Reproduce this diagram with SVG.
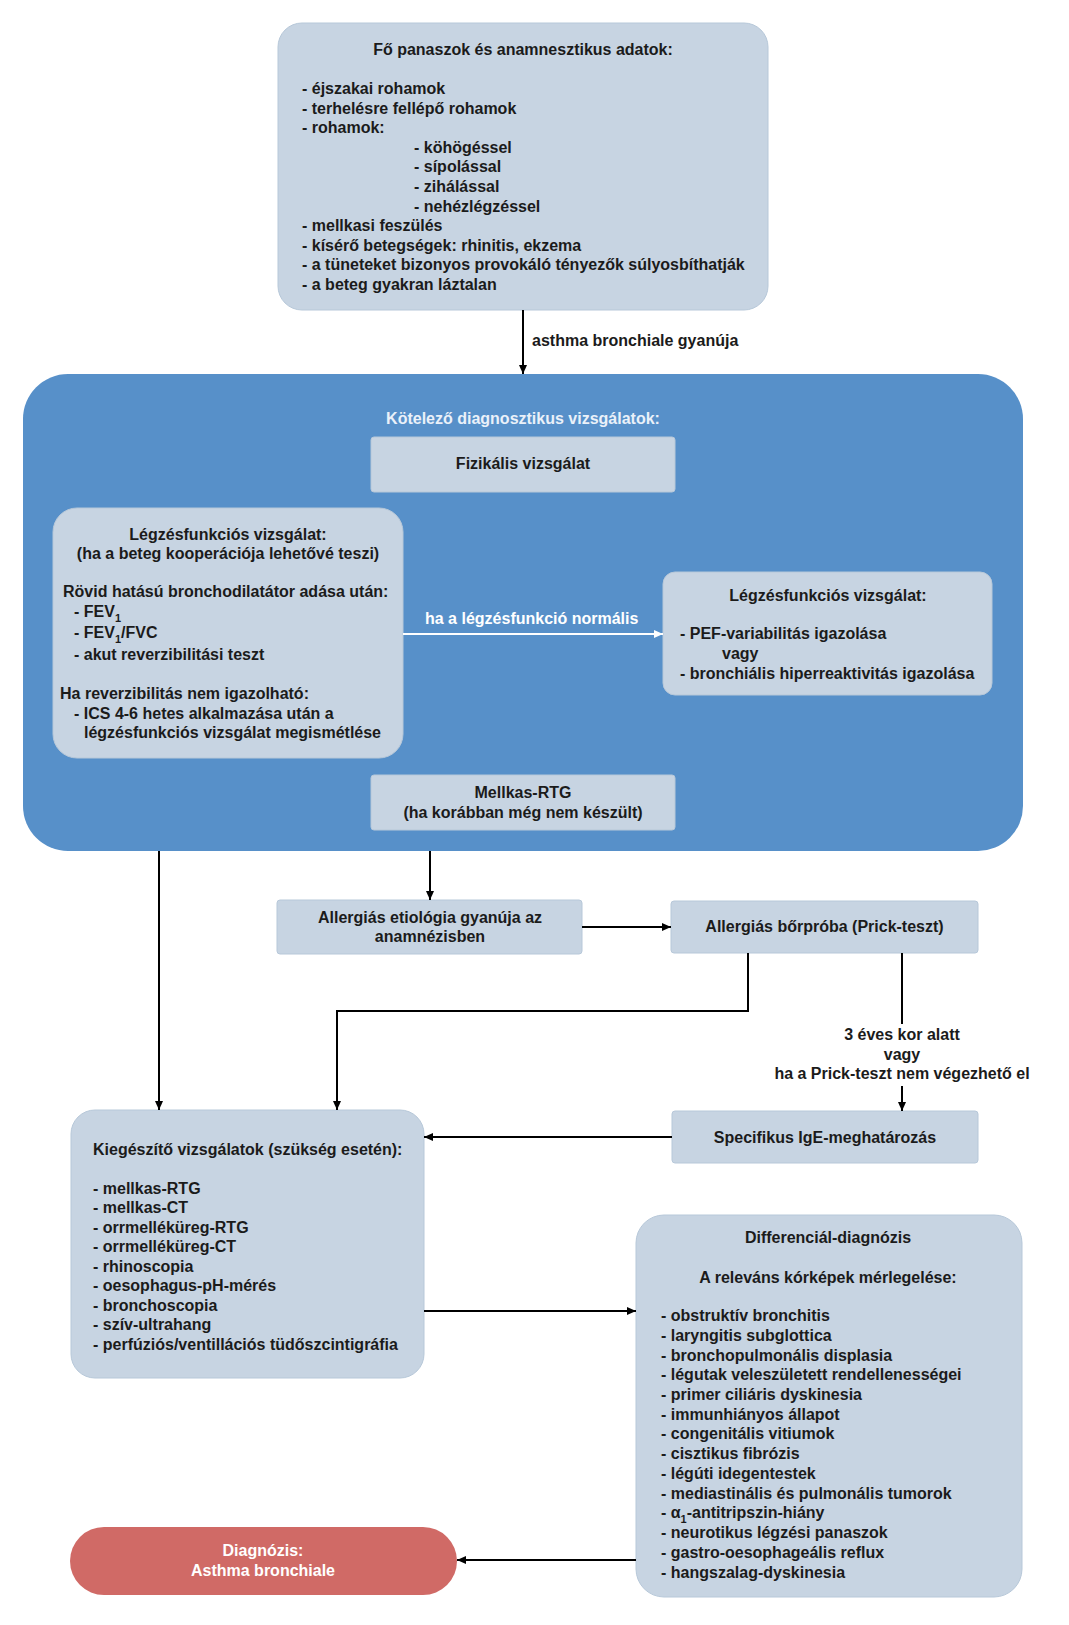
<svg xmlns="http://www.w3.org/2000/svg" width="1069" height="1625" viewBox="0 0 1069 1625">
<style>
text{font-family:"Liberation Sans",Arial,sans-serif;font-weight:bold;font-size:16px;fill:#1b1b1b}
.c{text-anchor:middle}
.w{fill:#ffffff}
.lt{fill:#eaf1f9}
.box{fill:#c7d4e2;stroke:#b7c8d9;stroke-width:1}
.ln{fill:none;stroke:#000;stroke-width:2}
.wl{fill:none;stroke:#fff;stroke-width:2}
.sub{font-size:11px}
</style>
<defs>
<marker id="ah" markerWidth="10" markerHeight="10" refX="9" refY="5" orient="auto" markerUnits="userSpaceOnUse">
<path d="M0,1 L9,5 L0,9 Z" fill="#000"/>
</marker>
<marker id="ahw" markerWidth="10" markerHeight="10" refX="9" refY="5" orient="auto" markerUnits="userSpaceOnUse">
<path d="M0,1 L9,5 L0,9 Z" fill="#fff"/>
</marker>
</defs>
<rect width="1069" height="1625" fill="#fff"/>

<g id="main-panel">
<rect x="23" y="374" width="1000" height="477" rx="45" fill="#5790c9"/>
<text class="c lt" x="523" y="424">Kötelező diagnosztikus vizsgálatok:</text>
</g>

<g id="anamnesis">
<rect class="box" x="278" y="23" width="490" height="287" rx="24"/>
<text class="c" x="523" y="55">Fő panaszok és anamnesztikus adatok:</text>
<text x="302" y="94">- éjszakai rohamok</text>
<text x="302" y="113.6">- terhelésre fellépő rohamok</text>
<text x="302" y="133.2">- rohamok:</text>
<text x="414" y="152.8">- köhögéssel</text>
<text x="414" y="172.4">- sípolással</text>
<text x="414" y="192">- zihálással</text>
<text x="414" y="211.6">- nehézlégzéssel</text>
<text x="302" y="231.2">- mellkasi feszülés</text>
<text x="302" y="250.8">- kísérő betegségek: rhinitis, ekzema</text>
<text x="302" y="270.4">- a tüneteket bizonyos provokáló tényezők súlyosbíthatják</text>
<text x="302" y="290">- a beteg gyakran láztalan</text>
</g>

<g id="fizikalis">
<rect class="box" x="371" y="437" width="304" height="55" rx="3"/>
<text class="c" x="523" y="469">Fizikális vizsgálat</text>
</g>

<g id="legzesfunkcio-1">
<rect class="box" x="53" y="508" width="350" height="250" rx="24"/>
<text class="c" x="228" y="540">Légzésfunkciós vizsgálat:</text>
<text class="c" x="228" y="559">(ha a beteg kooperációja lehetővé teszi)</text>
<text x="63" y="597">Rövid hatású bronchodilatátor adása után:</text>
<text x="74" y="617">- FEV<tspan class="sub" dy="5">1</tspan></text>
<text x="74" y="638">- FEV<tspan class="sub" dy="5">1</tspan><tspan dy="-5">/FVC</tspan></text>
<text x="74" y="660">- akut reverzibilitási teszt</text>
<text x="60" y="699">Ha reverzibilitás nem igazolható:</text>
<text x="74" y="719">- ICS 4-6 hetes alkalmazása után a</text>
<text x="84" y="738">légzésfunkciós vizsgálat megismétlése</text>
</g>

<g id="legzesfunkcio-2">
<rect class="box" x="663" y="572" width="329" height="123" rx="12"/>
<text class="c" x="828" y="601">Légzésfunkciós vizsgálat:</text>
<text x="680" y="639">- PEF-variabilitás igazolása</text>
<text x="722" y="659">vagy</text>
<text x="680" y="679">- bronchiális hiperreaktivitás igazolása</text>
</g>

<g id="mellkas-rtg">
<rect class="box" x="371" y="775" width="304" height="55" rx="3"/>
<text class="c" x="523" y="798">Mellkas-RTG</text>
<text class="c" x="523" y="818">(ha korábban még nem készült)</text>
</g>

<g id="allergias-etiologia">
<rect class="box" x="277" y="900" width="305" height="54" rx="3"/>
<text class="c" x="430" y="923">Allergiás etiológia gyanúja az</text>
<text class="c" x="430" y="942">anamnézisben</text>
</g>

<g id="prick">
<rect class="box" x="671" y="901" width="307" height="52" rx="3"/>
<text class="c" x="824.5" y="932">Allergiás bőrpróba (Prick-teszt)</text>
</g>

<g id="ige">
<rect class="box" x="672" y="1111" width="306" height="52" rx="3"/>
<text class="c" x="825" y="1143">Specifikus IgE-meghatározás</text>
</g>

<g id="kiegeszito">
<rect class="box" x="71" y="1110" width="353" height="268" rx="24"/>
<text x="93" y="1155">Kiegészítő vizsgálatok (szükség esetén):</text>
<text x="93" y="1193.5">- mellkas-RTG</text>
<text x="93" y="1213">- mellkas-CT</text>
<text x="93" y="1232.5">- orrmelléküreg-RTG</text>
<text x="93" y="1252">- orrmelléküreg-CT</text>
<text x="93" y="1271.5">- rhinoscopia</text>
<text x="93" y="1291">- oesophagus-pH-mérés</text>
<text x="93" y="1310.5">- bronchoscopia</text>
<text x="93" y="1330">- szív-ultrahang</text>
<text x="93" y="1349.5">- perfúziós/ventillációs tüdőszcintigráfia</text>
</g>

<g id="differencial">
<rect class="box" x="636" y="1215" width="386" height="382" rx="28"/>
<text class="c" x="828" y="1243">Differenciál-diagnózis</text>
<text class="c" x="828" y="1283">A releváns kórképek mérlegelése:</text>
<text x="661" y="1321">- obstruktív bronchitis</text>
<text x="661" y="1340.7">- laryngitis subglottica</text>
<text x="661" y="1360.5">- bronchopulmonális displasia</text>
<text x="661" y="1380.2">- légutak veleszületett rendellenességei</text>
<text x="661" y="1400">- primer ciliáris dyskinesia</text>
<text x="661" y="1419.7">- immunhiányos állapot</text>
<text x="661" y="1439.4">- congenitális vitiumok</text>
<text x="661" y="1459.2">- cisztikus fibrózis</text>
<text x="661" y="1478.9">- légúti idegentestek</text>
<text x="661" y="1498.7">- mediastinális és pulmonális tumorok</text>
<text x="661" y="1518.4">- α<tspan class="sub" dy="5">1</tspan><tspan dy="-5">-antitripszin-hiány</tspan></text>
<text x="661" y="1538.1">- neurotikus légzési panaszok</text>
<text x="661" y="1557.9">- gastro-oesophageális reflux</text>
<text x="661" y="1577.6">- hangszalag-dyskinesia</text>
</g>

<g id="diagnozis">
<rect x="70" y="1527" width="387" height="68" rx="34" fill="#d06a66"/>
<text class="c w" x="263" y="1556">Diagnózis:</text>
<text class="c w" x="263" y="1576">Asthma bronchiale</text>
</g>

<g id="connectors">
<line class="ln" x1="523" y1="310" x2="523" y2="374" marker-end="url(#ah)"/>
<text x="532" y="346">asthma bronchiale gyanúja</text>
<line class="wl" x1="403" y1="634" x2="663" y2="634" marker-end="url(#ahw)"/>
<text class="w" x="425" y="624">ha a légzésfunkció normális</text>
<line class="ln" x1="159" y1="851" x2="159" y2="1110" marker-end="url(#ah)"/>
<line class="ln" x1="430" y1="851" x2="430" y2="900" marker-end="url(#ah)"/>
<line class="ln" x1="582" y1="927" x2="671" y2="927" marker-end="url(#ah)"/>
<polyline class="ln" points="748,953 748,1011 337,1011 337,1110" marker-end="url(#ah)"/>
<line class="ln" x1="902" y1="953" x2="902" y2="1024"/>
<text class="c" x="902" y="1040">3 éves kor alatt</text>
<text class="c" x="902" y="1060">vagy</text>
<text class="c" x="902" y="1079">ha a Prick-teszt nem végezhető el</text>
<line class="ln" x1="902" y1="1086" x2="902" y2="1111" marker-end="url(#ah)"/>
<line class="ln" x1="672" y1="1137" x2="424" y2="1137" marker-end="url(#ah)"/>
<line class="ln" x1="424" y1="1311" x2="636" y2="1311" marker-end="url(#ah)"/>
<line class="ln" x1="636" y1="1560" x2="457" y2="1560" marker-end="url(#ah)"/>
</g>
</svg>
